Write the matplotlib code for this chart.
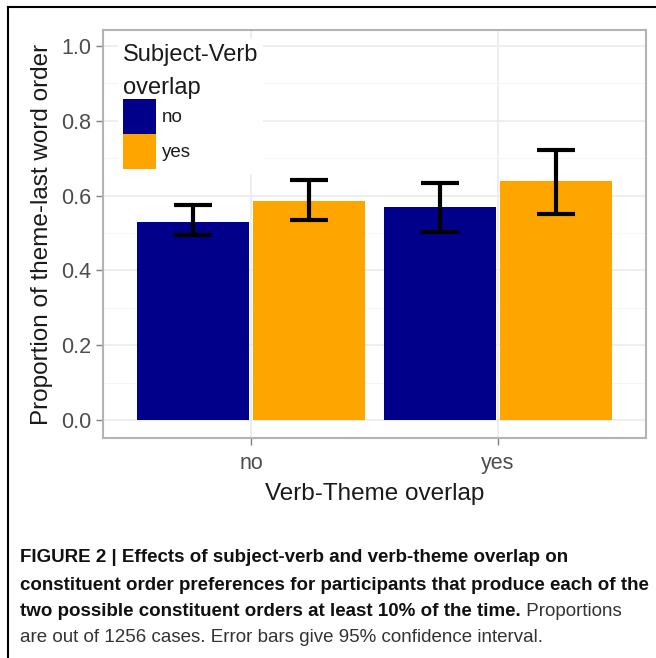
import matplotlib
matplotlib.use("Agg")
import matplotlib.pyplot as plt
import numpy as np
from matplotlib.lines import Line2D
from matplotlib.patches import Patch

plt.rcParams['font.family'] = ['Liberation Sans', 'DejaVu Sans']

# data
vt_categories = ["no", "yes"]
sv_levels = ["no", "yes"]
prop_sv_no = [0.530, 0.570]
prop_sv_yes = [0.586, 0.639]
ci_low_sv_no = [0.495, 0.502]
ci_high_sv_no = [0.574, 0.633]
ci_low_sv_yes = [0.534, 0.550]
ci_high_sv_yes = [0.642, 0.723]
yticks = [0.0, 0.2, 0.4, 0.6, 0.8, 1.0]

colors = ["#00008B", "#FFA500"]

fig = plt.figure(figsize=(6.56, 6.58), dpi=100)
ax = fig.add_axes([103/656, 1-438/658, (646-103)/656, (438-30)/658])

x = np.arange(1, len(vt_categories)+1)
off = 0.235
w = 0.455
series = [(prop_sv_no, ci_low_sv_no, ci_high_sv_no), (prop_sv_yes, ci_low_sv_yes, ci_high_sv_yes)]
for i, (vals, lo, hi) in enumerate(series):
    xp = x + (i*2-1)*off
    ax.bar(xp, vals, width=w, color=colors[i], edgecolor='none', zorder=2, label=sv_levels[i])
    vals = np.array(vals); lo = np.array(lo); hi = np.array(hi)
    ax.errorbar(xp, vals, yerr=[vals-lo, hi-vals], fmt='none', ecolor='black',
                elinewidth=3, capsize=14, capthick=3, zorder=3)

ax.set_xlim(0.4, 2.6)
ax.set_ylim(-0.048, 1.043)
ax.set_yticks(yticks)
ax.set_yticklabels([f"{v:.1f}" for v in yticks])
ax.set_yticks(np.arange(0.1, 1.0, 0.2), minor=True)
ax.set_xticks(x)
ax.set_xticklabels(vt_categories)
ax.tick_params(axis='both', which='major', labelsize=15.5, labelcolor='#4d4d4d', color='#7f7f7f',
               length=5, width=1)
ax.tick_params(axis='x', which='major', pad=6)
ax.tick_params(axis='both', which='minor', length=0)
ax.grid(True, which='major', color='#ebebeb', linewidth=1.2, zorder=0)
ax.grid(True, which='minor', axis='y', color='#f5f5f5', linewidth=0.8, zorder=0)
ax.set_axisbelow(True)
for s in ax.spines.values():
    s.set_color('#b3b3b3')
    s.set_linewidth(1.5)

ax.set_ylabel("Proportion of theme-last word order", fontsize=17.5, color='#1a1a1a', labelpad=6)
ax.set_xlabel("Verb-Theme overlap", fontsize=17.5, color='#1a1a1a', labelpad=6)

handles = [Patch(facecolor=colors[0], edgecolor='none'), Patch(facecolor=colors[1], edgecolor='none')]
leg = ax.legend(handles, sv_levels, title="Subject-Verb\noverlap", loc='upper left',
                bbox_to_anchor=(0.028, 0.977), frameon=True, facecolor='white', edgecolor='none',
                framealpha=1, fontsize=13.5, title_fontsize=17, handlelength=1.78, handleheight=2.5,
                labelspacing=0.0, handletextpad=0.3, borderpad=0.25, borderaxespad=0,
                alignment='left', fancybox=False)
leg.get_title().set_color('#1a1a1a')
leg.get_title().set_linespacing(1.65)
for t in leg.get_texts():
    t.set_color('#1a1a1a')

# figure frame
fig.add_artist(Line2D([8/656, 8/656], [0, 1-7/658], color='black', linewidth=1.5, transform=fig.transFigure))
fig.add_artist(Line2D([8/656, 1], [1-7/658, 1-7/658], color='black', linewidth=1.5, transform=fig.transFigure))

cap_lines_bold = ["FIGURE 2 | Effects of subject-verb and verb-theme overlap on",
                  "constituent order preferences for participants that produce each of the",
                  "two possible constituent orders at least 10% of the time."]
cap_fs = 13.5
ys = [556, 583, 610]
for line, yy in zip(cap_lines_bold, ys):
    t = fig.text(20/656, 1-(yy+2)/658, line, fontsize=cap_fs, fontweight='bold', color='#111111',
                 va='center', ha='left')
ax.annotate(" Proportions", xy=(1, 0), xycoords=t, fontsize=cap_fs, color='#333333',
            va='bottom', ha='left', annotation_clip=False)
fig.text(20/656, 1-638/658, "are out of 1256 cases. Error bars give 95% confidence interval.",
         fontsize=cap_fs, color='#333333', va='center', ha='left')

fig.savefig("out.png", dpi=100)
